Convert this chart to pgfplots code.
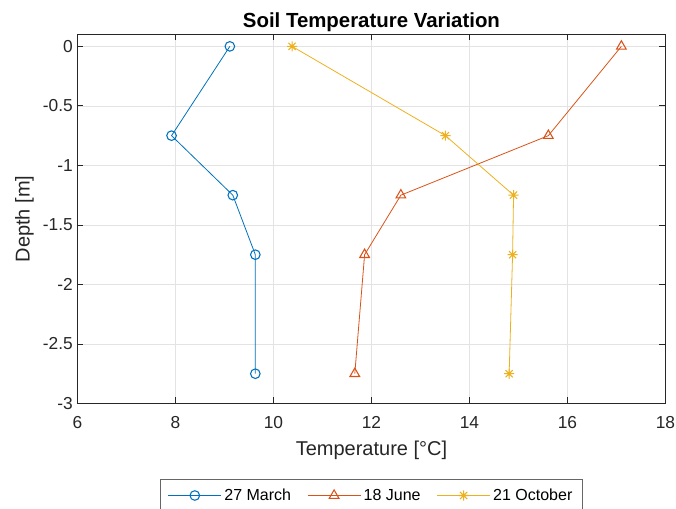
\documentclass[border=0pt]{standalone}
\usepackage{pgfplots}
\pgfplotsset{compat=1.18}
\usepackage{fontspec}
\setmainfont{Liberation Sans}
\definecolor{mblue}{rgb}{0,0.447,0.741}
\definecolor{mred}{rgb}{0.85,0.325,0.098}
\definecolor{myellow}{rgb}{0.929,0.694,0.125}
\pgfdeclareplotmark{mstar}{%
  \pgfpathmoveto{\pgfqpoint{-\pgfplotmarksize}{0pt}}\pgfpathlineto{\pgfqpoint{\pgfplotmarksize}{0pt}}%
  \pgfpathmoveto{\pgfqpoint{0pt}{-\pgfplotmarksize}}\pgfpathlineto{\pgfqpoint{0pt}{\pgfplotmarksize}}%
  \pgfpathmoveto{\pgfqpoint{-0.707\pgfplotmarksize}{-0.707\pgfplotmarksize}}\pgfpathlineto{\pgfqpoint{0.707\pgfplotmarksize}{0.707\pgfplotmarksize}}%
  \pgfpathmoveto{\pgfqpoint{-0.707\pgfplotmarksize}{0.707\pgfplotmarksize}}\pgfpathlineto{\pgfqpoint{0.707\pgfplotmarksize}{-0.707\pgfplotmarksize}}%
  \pgfusepathqstroke}
\begin{document}
\begin{tikzpicture}
\useasboundingbox (-58.1pt,-78.4pt) rectangle (448.9pt,302.6pt);
\begin{axis}[
  at={(0,0)}, anchor=south west,
  scale only axis, width=441pt, height=276.75pt,
  xmin=6, xmax=18, ymin=-3, ymax=0.1,
  xtick={6,8,...,18},
  ytick={-3,-2.5,-2,-1.5,-1,-0.5,0},
  /pgf/number format/assume math mode=true,
  yticklabel style={/pgf/number format/fixed},
  xticklabel style={yshift=-6.5pt},
  tick label style={font=\fontsize{13}{15}\selectfont, text=black!85},
  axis line style={black!85, line width=0.6pt},
  tick style={black!85, line width=0.6pt},
  major tick length=4.5pt,
  tick align=inside,
  grid=major,
  major grid style={gray!22, line width=0.5pt},
  xlabel={Temperature [°C]},
  ylabel={Depth [m]},
  xlabel style={yshift=-2pt},
  label style={font=\fontsize{15}{18}\selectfont, text=black!85},
  title={Soil Temperature Variation},
  title style={font=\bfseries\fontsize{15.3}{18}\selectfont, yshift=-7.5pt},
  legend columns=3,
  legend style={at={(0.5,-0.2046)}, anchor=north, draw=black!60, line width=0.6pt,
    inner xsep=5.5pt, inner ysep=5pt,
    font=\fontsize{12}{14}\selectfont, /tikz/every even column/.append style={column sep=10pt}},
  legend image code/.code={\draw[mark repeat=2,mark phase=2] plot coordinates {(0cm,0cm) (0.7cm,0cm) (1.4cm,0cm)};},
]
\addplot[mblue, line width=0.6pt, mark=o, mark size=3.6pt, mark options={line width=0.8pt}] coordinates {
(9.11,0) (7.92,-0.75) (9.17,-1.25) (9.63,-1.75) (9.63,-2.75)};
\addlegendentry{27 March}
\addplot[mred, line width=0.6pt, mark=triangle, mark size=4.2pt, mark options={line width=0.8pt}] coordinates {
(17.1,0) (15.61,-0.75) (12.6,-1.25) (11.86,-1.75) (11.66,-2.75)};
\addlegendentry{18 June}
\addplot[myellow, line width=0.6pt, mark=mstar, mark size=3.8pt, mark options={line width=0.8pt}] coordinates {
(10.38,0) (13.51,-0.75) (14.9,-1.25) (14.88,-1.75) (14.81,-2.75)};
\addlegendentry{21 October}
\end{axis}
\end{tikzpicture}
\end{document}
